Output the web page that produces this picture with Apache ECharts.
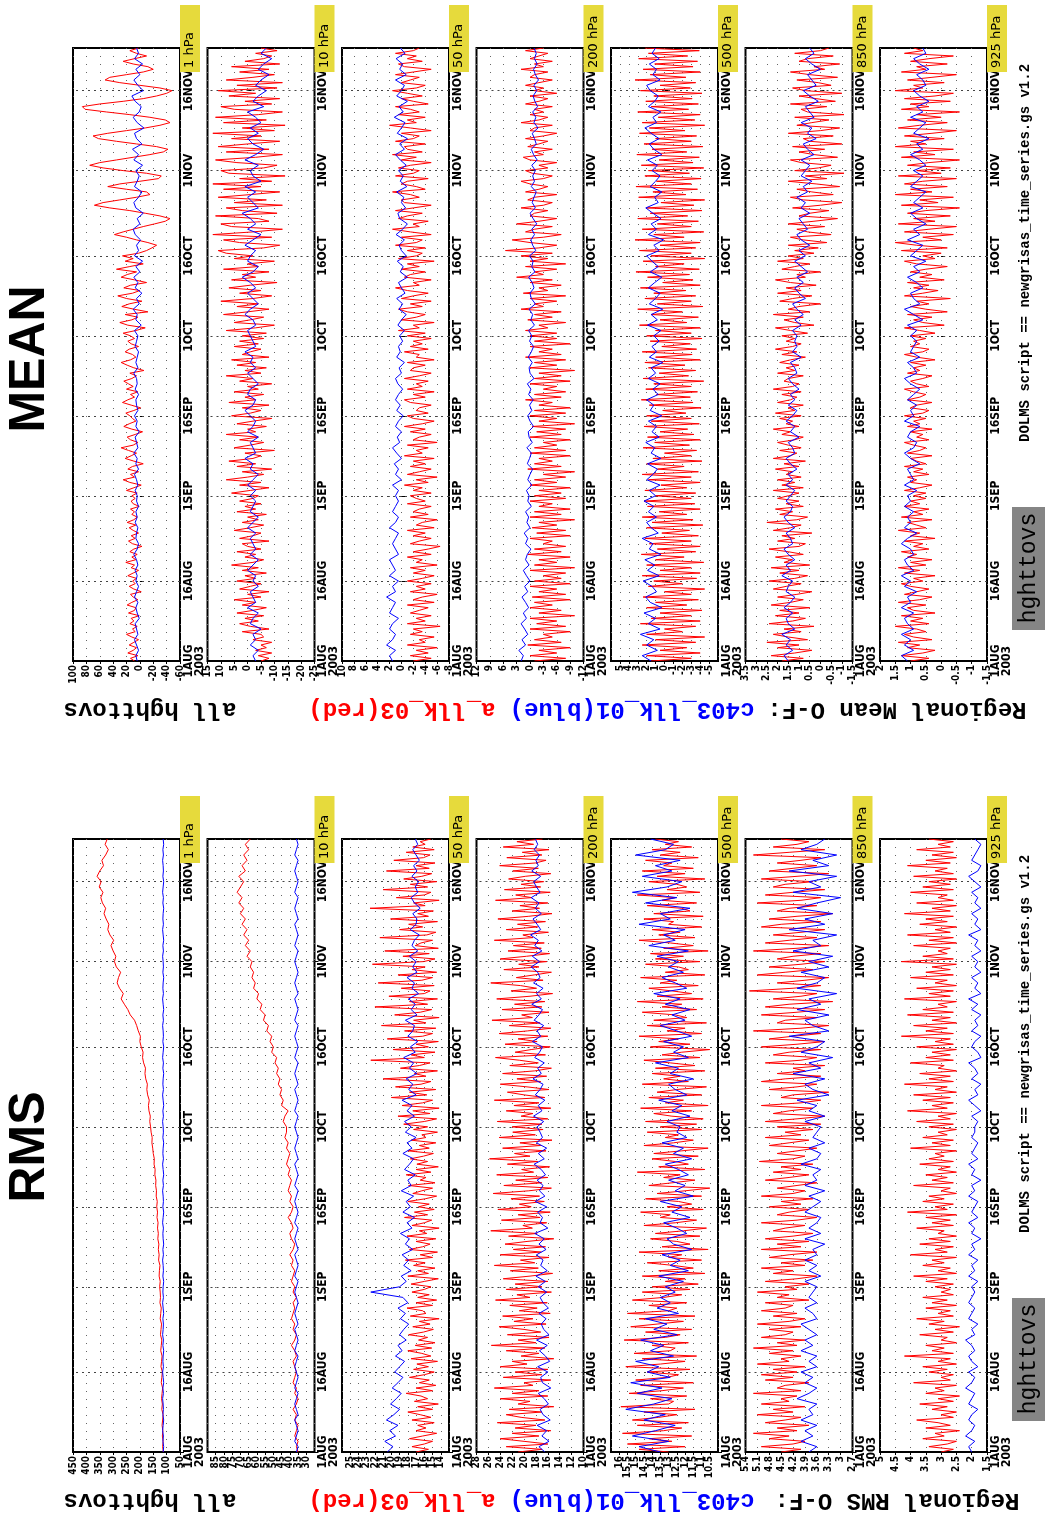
<!DOCTYPE html>
<html><head><meta charset="utf-8">
<script src="https://cdn.jsdelivr.net/npm/echarts@6/dist/echarts.min.js"></script>
<style>html,body{margin:0;padding:0;background:#fff}#c{width:1045px;height:1526px}</style>
</head><body><div id="c"></div>
<script>
// ---------- labels / axes ----------
const levels = ['1 hPa','10 hPa','50 hPa','200 hPa','500 hPa','850 hPa','925 hPa'];
const timeTickDays = [0,15,31,46,61,76,92,107];
const timeTickLabels = ['1AUG\n2003','16AUG','1SEP','16SEP','1OCT','16OCT','1NOV','16NOV'];
const meanMax = [100,15,10,12,6,3.5,2];
const meanMin = [-60,-25,-8,-12,-6,-1.5,-1.5];
const meanStep = [20,5,2,3,1,0.5,0.5];
const rmsMax = [450,90,26,28,16.5,5.4,5];
const rmsMin = [50,25,13,10,10,2.7,1.5];
const rmsStep = [50,5,1,2,0.5,0.3,0.5];
const panelTitles = ['MEAN','RMS'];

// ---------- MEAN data (red: a_llk_03, 12-hourly; blue: c403_llk_01, daily) ----------
const meanRed1 = [8,14,3,18,10,5,16,9,2,12,20,7,11,4,15,9,13,1,17,8,6,19,12,3,10,14,-2,9,16,7,11,5,18,10,2,13,8,21,6,12,4,15,9,-3,11,17,7,13,2,10,16,6,19,9,4,12,8,14,1,10,13,7,
12,4,20,9,-2,15,25,8,14,2,18,11,-5,9,22,13,5,17,28,10,3,14,19,7,-4,12,24,16,6,11,15,21,9,-1,13,26,18,8,14,3,20,10,17,24,12,5,15,-6,9,19,28,14,6,11,22,16,2,13,18,8,
14,25,6,-8,18,30,12,3,22,-12,9,27,16,-3,20,33,11,0,24,14,-10,8,28,19,5,35,15,-5,22,10,26,2,
-10,-18,-25,-12,5,20,38,25,10,-5,-22,-38,-45,-30,-8,15,45,68,55,30,5,-15,-10,20,48,30,0,-28,-32,-10,25,55,75,60,35,10,-15,-35,-42,-25,5,35,62,70,48,20,-8,-30,-45,-38,-15,15,50,82,86,60,25,-5,-25,-40,-48,-30,0,30,52,45,20,-5,-20,-12,10,25,8,-10,5,15,2];
const meanBlue1 = [4,6,2,5,8,3,5,7,1,4,6,3,8,5,2,6,4,7,3,5,9,4,2,6,5,3,7,4,6,2,5,
4,7,3,5,8,2,6,4,9,3,5,7,1,6,4,8,3,5,6,2,7,4,5,9,3,6,4,2,7,5,
3,8,-2,6,4,10,1,5,-3,7,3,9,0,6,-4,8,2,5,-1,7,10,0,4,-5,6,9,2,-3,8,4,1,
6,-4,9,2,11,-3,5,8,-6,4,10,1,-2,7,12,-5,3,9,0,6,-4,8,2,5];

const meanRed10 = [-5,-8,-4,-9,-3,-7,-5,-9,-2,-6,-5,2,-8,-1,3,-4,1,-6,4,-2,-7,2,-3,5,-5,0,-8,3,-1,-5,4,-3,1,-7,2,-4,6,-2,-6,1,-3,4,-5,0,2,-8,3,-2,-5,5,-1,-6,2,-4,0,-7,4,-3,1,-5,3,-2,
-4,6,-1,-8,3,-5,8,0,-6,2,-9,4,-3,7,-2,-5,1,-10,5,-1,-6,3,-4,8,-3,0,-7,4,-2,-9,6,-1,-5,2,-8,7,-3,1,-6,5,-4,0,-9,3,-2,8,-5,1,-7,4,-3,6,-8,2,-1,-5,5,-4,3,-6,
2,-7,8,-3,-10,5,-1,-6,9,0,-8,4,-4,10,-2,-9,3,-5,7,-1,-11,6,-3,2,-8,9,-4,0,-10,5,-2,8,
11,-6,-12,3,9,-9,13,-2,-13,6,10,-8,-4,12,-11,2,8,-13,5,-7,11,-1,-12,9,-5,13,-9,3,-14,7,10,-6,-11,4,12,-3,-13,8,-8,11,0,-12,6,-5,13,-10,2,-14,9,-7,12,-4,-13,5,10,-9,1,-12,7,-3,11,-11,4,-13,8,-2,-10,3,-8,6,-12,1,-6,-9,-3,-11,-5];
const meanBlue10 = [-3,-2,-4,-1,-3,-2,-5,-1,-2,-4,0,-3,-2,-1,-4,-2,-3,0,-2,-4,-1,-3,-2,-1,-3,0,-2,-4,-1,-2,-3,
-1,-3,0,-2,-4,-1,-2,1,-3,-2,-1,-4,0,-2,-3,-1,1,-2,-3,0,-1,-4,-2,0,-3,-1,-2,1,-3,-2,
-1,0,-3,-2,1,-1,-4,-2,0,-3,-1,2,-2,-4,0,-1,-3,1,-2,-5,0,-3,-1,2,-4,-2,0,-3,1,-5,-2,
-1,-4,1,-3,-6,-2,0,-4,-1,-5,-3,0,-6,-2,-4,-7,-3,-5,-8,-4,-6,-9,-5,-7];

const meanRed50 = [-2,-5,-1.5,-4.5,-2.5,-6,-1,-4,-3,-5.5,-1.5,-3.5,-2,-6.5,-1,-4,-2.5,-5,-1.5,-3,-4.5,-1,-5.5,-2,-3.5,-6,-1.5,-4,-2.5,-5,-1,-3.5,-5.5,-2,-4,-1.5,-6,-2.5,-3.5,-1,-5,-2,-4.5,-6.5,-1.5,-3,-5,-2,-4,-1,-5.5,-2.5,-3.5,-6,-1.5,-4.5,-2,-3,-5,-1,-4,-2.5,
-1.5,-5,-2,-3.5,-0.5,-4.5,-2.5,-6,-1,-3,-5,-1.5,-4,-2,-5.5,-0.5,-3.5,-2.5,-4.5,-1,-6,-2,-3,-5,-1.5,-4,-0.5,-3.5,-5.5,-2,-1,-4.5,-2.5,-3,-5,-1.5,-0.5,-4,-2,-5.5,-1,-3.5,-2.5,-4.5,-0.5,-3,-5,-1.5,-2,-4,-1,-5.5,-2.5,-3,-0.5,-4.5,-1.5,-3.5,-2,-5,
-1,-4,0.5,-3,-2,-5.5,0,-2.5,-4,-1,0.5,-3.5,-1.5,-5,0,-2,-4.5,-1,1,-3,-2,-5,-0.5,-1.5,-4,0,-3,-1,-5.5,0.5,-2.5,-3.5,
-1,-4,1,-2.5,-3.5,0,-5,-1.5,1.5,-3,-2,-4.5,0.5,-1,-3.5,1,-2,-5,-0.5,0,-3,-1.5,1.5,-4,-2.5,0,-1,-4.5,1,-2,-3,0.5,-1.5,-5,0,-2.5,1.5,-3.5,-1,-0.5,-4,1,-2,-3,0,-5,-1.5,2,-2.5,-1,-4,0.5,-3,-1.5,1,-4.5,-2,0,-3.5,-1,1.5,-2.5,-4,0,-1.5,-3,1,-2,-5,-0.5,0.5,-3.5,-1,-2.5,1,-2,-3];
const meanBlue50 = [1.5,2,1,2.5,1.5,1,2,1.5,0.5,2,1.5,1,2.5,1,1.5,0.5,2,1,1.5,2,0.5,1,1.5,1,0.5,2,1,0.5,1.5,1,0.5,
1,0.5,1.5,0,1,0.5,1.2,0,0.8,1.5,0.3,0.7,0,1,0.5,-0.3,0.8,0.2,1,0.5,-0.2,0.6,1,0,0.4,-0.5,0.8,0.2,0.5,-0.2,
0.3,-0.5,0.6,0,-0.8,0.4,-0.2,0.8,-0.6,0,0.5,-1,0.2,-0.3,0.7,-0.8,0,0.4,-0.5,0.9,-0.2,-1,0.3,0.6,-0.7,0,-0.4,0.8,-0.9,0.2,-0.3,
0.5,-0.8,0.2,1,-0.5,0.3,-1,0.7,0,-0.6,1.2,-0.3,0.4,-1,0.8,0,-0.5,1,-0.8,0.3,-0.2,0.9,-0.6,0.2];

const meanRed200 = [-1,-8,0,-6,-2,-9,0.5,-7,-1,-5,-3,-9,0,-8,-1.5,-6,0,-10,-2,-7,0,-5,-1,-9,-0.5,-8,-2,-6,0,-9,-1,-7,-3,-8,0,-10,-1,-6,-2,-9,0.5,-7,-1,-8,-3,-5,0,-9,-1.5,-8,-0.5,-6,-2,-10,0,-7,-1,-9,-2,-5,0,-8,
-1,-7,-2,-9,0,-6,-1,-8,-3,-10,0.5,-7,-1,-5,-2,-9,0,-8,-1,-6,-3,-9,0,-7,-1.5,-8,-0.5,-10,-2,-6,0,-8,-1,-9,-2,-5,1,-7,-1,-8,-3,-6,0,-9,-1,-7,-2,-10,0,-6,-1,-8,1,-7,-2,-5,0,-9,-1,-6,
0,-6,1,-4,-2,-8,0.5,-5,-1,-7,2,-3,-1,-6,0,-8,1.5,-4,-2,-7,0,-5,3,-3,-1,-6,1,-8,0,-4,2,-5,
5.5,-2,-6,0,4,-3,-7,1,-1,-5,3,-2,-6,0,-1,-4,2,-3,-5,0.5,-1,-6,1,-2,-4,0,2,-3,-5,-0.5,1,-4,-2,-6,0,1.5,-3,-1,-5,0.5,-2,-4,1,-3,-6,0,-1,-5,2,-2,-4,0,-3,-1,-5,1,-2,-4,0,-6,-1,-3,1,-2,-5,0,-1,-4,2,-3,-1,-5,0,-2,-4,1,-3];
const meanBlue200 = [2,1.5,2.5,1,1.8,0.5,1.2,2,0.8,1.5,0.3,1,1.8,0.5,1.2,0,0.8,1.5,0.2,1,0.6,-0.2,1,0.5,1.3,0,0.7,0.3,1,-0.3,0.5,
0.2,0.8,-0.4,0.5,0,-0.6,0.6,0.1,-0.3,0.7,-0.5,0.2,0.4,-0.8,0,0.5,-0.4,0.1,-0.7,0.3,-0.2,0.6,-0.9,0,0.2,-0.5,0.4,-0.3,-0.8,0.1,
-0.4,0.3,-1,-0.2,-0.6,0.2,-1.2,-0.3,0,-0.9,-0.5,0.3,-1.1,-0.4,-0.7,0.1,-1.3,-0.6,-0.2,-1,-0.4,-1.5,-0.7,0,-1.2,-0.5,-0.9,-1.4,-0.3,-1,-0.6,
-1.2,-0.4,-1.6,-0.8,-0.3,-1.4,-1,-0.5,-1.8,-0.9,-1.3,-0.6,-1.7,-1.1,-0.7,-1.5,-0.9,-1.9,-1.2,-0.8,-1.6,-1,-1.4,-0.9];

const meanRed500 = [1.5,-3,2,-4,0.5,-2.5,2.5,-3.5,1,-4.5,2,-2,0,-3.5,2.7,-4,1.5,-3,0.5,-4.2,2,-2.5,1,-3.8,2.4,-3,0,-4.5,1.8,-2,1.2,-3.6,2.5,-4,0.5,-3,2,-4.4,1,-2.2,2.6,-3.5,0.8,-4,1.7,-3,2.2,-3.8,0.3,-2.8,2,-4.3,1.4,-3.2,2.5,-2.5,0.6,-4,1.9,-3.4,2.3,-3,
1,-3.5,2.2,-2.5,0.4,-4,1.8,-3,2.5,-3.8,0.8,-2.2,2,-4.2,1.3,-3,0,-3.6,2.4,-2.8,1.1,-4,1.9,-3.3,0.5,-2.6,2.3,-3.9,1.5,-3,2,-2.4,0.2,-4.1,1.7,-3.2,2.6,-2.9,0.9,-3.7,2.1,-3,1.2,-4.4,2.4,-2.7,0.6,-3.5,1.8,-2.3,2.2,-4,1,-3.1,2.5,-3.6,0.3,-2.9,1.6,-4.2,
2,-3,1,-4,2.8,-2.5,0.5,-3.8,1.5,-2,3,-4.3,0.8,-3,2.2,-3.5,1.2,-2.4,2.7,-4,0.2,-3.2,1.9,-2.8,3.2,-3.9,1,-2.2,2.4,-4.5,1.5,-3,
2.8,-3.5,0.5,-4,3.3,-2.2,1.2,-4.4,2.5,-3,0.8,-3.8,3,-2.6,1.6,-4.2,2,-3.3,0.4,-4.5,2.9,-2.4,1.3,-3.7,3.2,-3,0.9,-4.1,2.2,-2.8,1.8,-4.4,2.6,-3.2,0.6,-3.9,3.1,-2.5,1.4,-4.3,2.3,-3,1,-3.6,2.8,-2.3,1.7,-4.5,2.5,-3.4,0.7,-4,3,-2.7,1.5,-3.8,2.1,-3.1,1.2,-4.2,2.7,-2.9,0.5,-3.5,3.3,-2.4,1.6,-4,2.4,-3.2,1.1,-3.7,2.9,-2.6,1.8,-3.9,2.2];
const meanBlue500 = [1.5,2.5,0.8,2,1.2,2.7,0.5,1.8,1,2.3,0.3,1.6,2.1,0.9,1.4,2.4,0.6,1.9,1.1,2.2,0.4,1.7,1.3,2.5,0.7,1.5,2,0.9,1.8,1.2,2.3,
1,1.7,0.5,2,1.3,0.8,1.9,0.4,1.5,1.1,2.1,0.6,1.4,0.9,1.8,0.3,1.6,1.2,2,0.7,1.3,0.5,1.8,1,1.5,0.2,1.7,0.9,1.4,0.6,
1.2,0.4,1.9,0.8,1.5,0.2,1.7,1,0.5,1.8,1.1,0.3,1.6,0.7,1.4,2,0.6,1.2,0.1,1.8,0.9,1.5,0.4,1.3,2.1,0.7,1.1,0.3,1.6,1,0.5,
1.4,0.8,1.9,0.3,1.2,1.7,0.6,1.5,2.2,0.9,1.3,0.4,1.8,1.1,0.7,1.6,2,0.5,1.3,0.9,1.7,0.6,1.4,1];

const meanRed850 = [1.8,0.8,2.3,1.2,0.4,2,1,2.5,0.6,1.5,2.2,0.9,1.7,0.3,2.4,1.3,0.7,2.1,1,1.9,0.5,2.3,1.4,0.8,2,1.1,0.4,2.2,1.6,0.9,2.4,1.2,0.6,1.9,1,2.3,0.5,1.7,1.3,2.1,0.8,1.5,2.4,1,0.7,2,1.2,1.8,0.4,2.2,1.4,0.9,2.5,1.1,0.6,1.9,1.3,2.1,0.8,1.6,1,2,
1.5,1,2.2,0.8,1.8,1.2,2,0.9,1.6,1.3,2.1,1,1.7,0.7,2.2,1.4,1.1,1.9,0.9,1.5,2,1.2,0.8,1.8,1.4,2.2,1,1.6,1.3,1.9,0.9,2.1,1.2,1.5,0.8,2,1.4,1.1,1.8,0.9,2.2,1.3,1,1.7,1.5,0.8,2,1.2,1.6,1,1.9,1.4,0.7,1.8,1.1,2.1,1.3,0.9,1.6,1.2,
1.8,0.6,1.4,2.1,0.3,1.2,1.7,0.8,2.2,0.5,1.5,1,0,1.9,1.3,0.4,2,0.9,1.6,0.2,1.4,2.1,0.7,1.1,0,1.8,1.2,0.5,2,0.8,1.5,0.3,
1.2,0.1,1.5,-0.3,0.8,1.4,-0.5,0.6,1.1,-0.2,1.5,0.3,-0.8,1,0.5,-0.4,1.3,0,-1,0.8,1.4,-0.6,0.4,1.1,-0.9,0.2,1.5,-0.3,0.7,-1.1,1.2,0.1,-0.5,0.9,1.4,-0.8,0.3,1,-0.2,1.3,-1,0.5,0.8,-0.6,1.5,0,-0.9,1.1,0.4,-0.4,1.2,-1.1,0.6,0.9,-0.3,1.4,-0.7,0.2,1,-1,0.7,1.3,-0.5,0.1,1.1,-0.8,0.5,1.4,-0.2,0.3,-0.9,1,0.6,-0.6,1.2,0,-0.4];
const meanBlue850 = [1.5,1.7,1.3,1.6,1.4,1.8,1.2,1.5,1.6,1.3,1.7,1.4,1.2,1.6,1.5,1.3,1.8,1.4,1.6,1.2,1.5,1.7,1.3,1.4,1.6,1.2,1.5,1.7,1.4,1.3,1.6,
1.4,1.2,1.6,1.3,1.5,1.1,1.4,1.6,1.2,1.3,1.5,1,1.4,1.2,1.6,1.3,1.1,1.5,1.2,1.4,1,1.3,1.5,1.1,1.2,1.4,0.9,1.3,1.1,1.2,
1.1,1.3,0.9,1.2,0.8,1.1,1.3,0.7,1,1.2,0.8,1.1,0.6,0.9,1.2,0.7,1,0.5,0.9,1.1,0.6,0.8,1,0.5,0.9,0.7,1.1,0.6,0.8,0.4,0.9,
0.7,0.5,0.9,0.3,0.6,0.8,0.2,0.6,0.4,0.9,0.3,0.5,0.7,0.1,0.5,0.8,0.2,0.4,0.6,0,0.4,0.7,0.3,0.5];

const meanRed925 = [1,0.4,1.3,0.6,0.2,1.1,0.7,1.4,0.3,0.9,1.2,0.5,0.8,1.5,0.4,1,0.6,1.3,0.2,0.9,1.1,0.5,1.4,0.7,0.3,1.2,0.8,0.4,1,1.3,0.6,0.9,0.2,1.2,0.7,1.4,0.5,1,0.3,1.1,0.8,1.3,0.4,0.9,0.6,1.2,0.2,1,0.7,1.4,0.5,0.8,1.1,0.3,1.3,0.6,0.9,0.4,1.2,0.7,1,0.5,
0.9,0.5,1.2,0.7,0.3,1,0.8,1.1,0.4,0.9,0.6,1.2,0.5,0.8,1,0.3,1.1,0.7,0.5,0.9,1.2,0.4,0.8,0.6,1,0.3,1.1,0.7,0.9,0.5,1.2,0.6,0.4,1,0.8,0.3,1.1,0.7,0.5,0.9,1.2,0.4,0.8,1,0.6,0.3,1.1,0.7,0.9,0.5,1,0.2,0.8,1.2,0.6,0.4,1,0.7,0.9,0.5,
1,0.2,0.7,1.2,-0.1,0.6,0.9,0.3,1.1,-0.2,0.5,1,0.4,0.8,-0.3,1.2,0.6,0.1,0.9,0.4,1.1,-0.1,0.7,0.3,1,0.5,-0.2,0.8,1.2,0.2,0.6,0,
1.3,-0.2,0.8,1.5,0,0.6,-0.4,1.2,0.4,-0.5,1.4,0.2,0.9,-0.3,1.1,0.5,-0.6,1.3,0.1,0.7,-0.4,1.5,0.3,1,-0.2,1.2,0.6,-0.5,1.4,0,0.8,-0.3,1.1,0.4,-0.6,1.3,0.2,0.9,-0.4,1.5,0.5,1,-0.1,1.2,0.3,-0.5,1.4,0.7,-0.2,1.1,0,0.8,-0.6,1.3,0.4,1,-0.3,1.2,0.2,-0.4,1.5,0.6,0.9,-0.1,1.1,0.3,-0.5,1.3,0.5,0.8,-0.2,1,0.4,-0.4,1.2,0.6,0.9];
const meanBlue925 = [1.1,1.3,0.9,1.2,1,1.3,0.9,1.1,1.2,0.9,1.3,1,1.1,0.8,1.2,1,1.3,0.9,1.1,1.2,0.9,1,1.3,1.1,0.8,1.2,1,1.1,0.9,1.2,1,
1.1,0.8,1.2,0.9,1,1.1,0.7,1,1.2,0.9,0.8,1.1,1,0.7,1.2,0.9,1,0.8,1.1,0.9,0.7,1,1.2,0.8,0.9,1.1,0.7,1,0.9,0.8,
1,0.8,1.1,0.6,0.9,1.2,0.7,0.9,1,0.6,0.8,1.1,0.7,0.9,0.5,1,0.8,0.6,1.1,0.7,0.9,0.5,0.8,1,0.6,0.9,0.7,0.5,1,0.8,0.6,
0.9,0.5,0.7,1,0.6,0.8,0.4,0.9,0.7,0.5,1,0.6,0.8,0.4,0.7,0.9,0.5,0.6,0.8,0.4,0.7,0.9,0.5,0.6];

// ---------- RMS data ----------
const rmsRed1 = [112,115,113,116,114,117,115,113,118,116,119,117,115,120,118,116,121,119,117,122,120,118,123,121,119,124,122,120,125,123,124,
126,124,128,127,125,130,128,131,129,133,131,134,132,136,134,137,135,139,138,141,140,144,143,147,146,150,152,155,154,158,
160,163,161,166,168,165,171,174,172,178,181,179,186,190,188,195,200,198,206,212,220,236,245,258,270,262,276,285,280,272,288,
295,290,300,308,298,312,320,316,326,334,328,340,346,338,352,345,360,350,336,342,328,318,330,322];
const rmsBlue1 = [113,111,114,112,115,113,111,114,112,113,115,112,114,111,113,115,112,114,113,111,114,112,115,113,112,114,111,113,115,112,114,
113,111,114,112,113,115,112,114,111,113,114,112,115,113,111,114,112,113,115,112,114,111,113,115,112,114,113,111,114,112,
113,115,112,114,111,113,115,112,114,113,111,114,112,115,113,111,114,112,113,115,112,114,111,113,115,112,114,113,111,114,112,
113,115,112,114,111,113,115,112,114,113,111,114,112,115,113,111,114,112,113,115,112,114,111,113];

const rmsRed10 = [35,36,35,37,36,35,37,36,38,36,35,37,36,38,37,36,37,38,36,37,39,37,36,38,37,39,38,37,38,36,38,
37,39,38,37,39,38,40,38,37,39,40,38,39,41,39,38,40,39,41,40,39,41,40,42,41,40,42,41,43,42,
42,44,43,41,45,44,46,45,47,46,48,47,49,48,51,50,52,51,54,53,56,55,58,57,60,59,62,61,63,62,64,
63,66,64,67,65,68,66,69,67,70,68,71,69,72,70,68,71,67,69,66,68,65,67,64];
const rmsBlue10 = [36,35,37,36,35,36,37,35,36,37,36,35,37,36,35,36,37,36,35,37,36,35,36,37,35,36,37,36,35,36,37,
36,35,37,36,35,36,37,35,36,37,36,35,37,36,35,36,37,36,35,37,36,35,36,37,35,36,37,36,35,36,
37,36,35,37,36,35,36,37,35,36,37,36,35,37,36,35,36,37,36,35,37,36,35,36,37,35,36,37,36,35,36,
37,36,35,37,36,35,36,37,35,36,37,36,35,37,36,35,36,37,36,35,37,36,35,36];

const rmsRed50 = [17,15.5,17.5,16,15,17.8,16.2,14.5,17,15.8,16.8,14.8,17.5,15.2,16.5,18,15,16.8,14.3,17.2,15.6,16.4,18.2,15,17,14.6,16.6,15.4,17.8,16,14.8,17.3,15.5,16.9,14.4,17.6,15.2,16.3,18,15.1,17.1,14.7,16.7,15.6,17.9,16.1,14.9,17.4,15.3,16.6,14.2,17.7,15.8,16.2,18.1,15,17,14.5,16.8,15.4,17.5,16,
15.2,17.6,16,14.3,18,15.5,16.8,14.7,17.3,15.9,18.3,15,16.5,14.4,17.8,16.2,15.3,17,14.6,18.1,15.7,16.6,14.2,17.5,16,15.1,18.4,15.6,17.2,14.8,16.7,15.4,18,15.9,14.5,17.4,16.3,15,17.9,14.7,16.5,15.8,18.2,15.2,17,14.3,16.9,15.6,17.7,16.1,14.9,18,15.4,16.6,14.6,17.6,15.8,16.3,14.4,17.3,
15.6,18.5,16,14.5,19.2,15.3,17.4,14.2,18.7,16.2,15,20,15.7,17.8,14.6,19.5,16.4,15.2,21,15.8,17.2,14.4,18.9,16.6,15.3,22.5,16,17.6,14.7,19.8,15.5,17,
14.3,20.5,16.2,15,18.4,14.6,21.2,15.8,17.3,14.2,19.6,16.5,15.1,22,15.6,17.8,14.4,20.3,16,15.3,18.8,14.8,21.6,16.3,15,19.2,14.5,17.5,15.9,22.3,16.1,14.7,18.6,15.4,20.8,14.3,17.1,16.4,15,21.4,15.7,14.6,19,16.2,17.9,14.4,20.1,15.5,16.8,14.9,22.6,15.9,17.3,14.2,19.4,16,15.2,21,15.6,17.7,14.5,18.5,16.3,15.1,20.6,15.4,17,14.7,19.7,16.1,15.3,18.2,14.8,17.4,15.9,16.5,15.2];
const rmsBlue50 = [20.5,19.8,20.8,19.5,20.2,19.2,20.6,19.7,19,20.1,19.4,18.8,19.9,19.2,18.6,19.6,19,18.4,19.5,18.7,19.2,18.2,19,18.5,17.9,18.9,18.3,19.2,18,18.6,22.5,
19,18.2,18.8,17.6,18.5,17.9,18.7,17.4,18.3,17.8,18.9,17.5,18.1,17.2,18.6,17.7,18.2,17.3,18.8,17.6,18,17.1,18.4,17.8,17.3,18.6,17.5,18.1,17,18.3,
17.6,18.4,17.2,18.1,17.5,18.7,17,17.9,17.4,18.2,16.9,17.8,17.3,18.5,17.1,17.7,16.8,18,17.4,17.2,18.3,16.9,17.6,17.1,17.9,16.7,17.5,17.2,18.1,16.9,17.4,
17,17.8,16.8,17.5,17.2,16.6,17.7,17,16.9,17.4,16.5,17.2,17.6,16.8,17.1,16.7,17.5,16.9,17.3,16.6,17,17.4,16.8,17.1];

const rmsRed200 = [21,17,23,16,20,24,17.5,22,15.5,21.5,18,24.5,16.5,20.5,23,17,22.5,15,21,19,24,16,22,17.5,25,18.5,20,15.5,23.5,17,21.5,16,24,19.5,22,15,20.5,17.5,23,16.5,25.5,18,21,15.8,22.8,17.2,20,24.2,16.3,21.7,18.5,23.6,15.6,20.8,17.8,22.4,16.1,24.8,19,21.2,15.4,23,
17,21.5,16,23.5,19,15.2,22.3,17.6,25,18.2,20.6,15.8,24,17.1,21.8,16.4,23.2,19.5,15,22.6,17.8,25.6,18.6,20.2,16.2,23.8,17.3,21,15.6,24.4,18.8,20.8,16.6,22.2,17.4,25.2,19.2,15.4,23.4,17,21.4,16,24.6,18.4,20.4,15.7,22.8,17.7,25.8,19,21.6,16.3,23.6,17.2,20.7,15.3,24.2,18.1,21.9,16.8,
22,17,24.5,16,20.5,18.5,23,15.5,21.7,17.5,25,16.5,20,22.8,15.8,19.5,24,17.2,21.2,16.2,23.6,18.2,15.4,22.4,17.6,20.8,24.8,16.4,21.5,18.8,15.6,23.2,
17.8,21,16,24.2,19.4,15.5,22.5,17.3,25.4,18.6,20.4,15.8,23.7,17,21.6,16.5,24.6,19,15.2,22.2,17.9,20.6,25.6,16.8,21.3,18.3,15.4,23.4,17.5,20.9,16.2,24,19.6,15.7,22.7,17.1,21.8,16.6,25,18.5,20.2,15.9,23,17.7,21.1,16.4,24.4,19.2,15.3,22,17.4,20.7,16,24.8,18.7,21.4,15.6,23.3,17.2,20.5,16.7,22.6,19.8,15.5,21.9,17.6,24.1,18.1,16.3,22.9,17,20.3,15.8,23.5,18.4,21.2,16.9];
const rmsBlue200 = [16.5,17.5,15.8,17,16.2,17.8,15.6,16.8,17.3,15.9,16.6,17.6,15.5,16.9,17.2,16,17.7,15.7,16.4,17.4,16.1,17.9,15.8,16.7,17.1,16.3,17.5,15.9,16.8,17.3,16.2,
17.6,16.4,18,16.1,17.2,16.8,17.9,16.3,17.5,16.6,18.2,16,17.3,16.9,17.7,16.2,18.1,16.5,17.4,16.8,17.8,16.4,17.1,18.3,16.6,17.6,16.2,17.9,16.9,17.3,
17.8,16.7,18.4,17,17.6,16.5,18.1,17.3,16.8,18.5,17.1,17.7,16.6,18.2,17.4,16.9,18.6,17.2,17.8,16.7,18.3,17.5,16.9,18.7,17.1,17.9,16.8,18.4,17.3,17.7,18.8,
17.4,18.6,17,18.2,17.6,18.9,17.2,17.8,18.5,17.1,18.1,17.5,18.8,17.3,17.9,18.4,17.2,18.7,17.6,18,17.4,18.3,17.7,18.1];

const rmsRed500 = [13,14.8,12,15.5,12.8,14.2,11.6,15.8,13.3,12.2,14.9,11.8,15.2,13.6,12.5,14.5,11.4,15.9,13,12.7,14.1,11.9,15.4,13.4,12.1,14.7,11.5,15,13.1,12.4,14.3,11.7,15.6,13.5,12,14.6,11.3,15.1,12.9,12.6,14,11.8,15.7,13.2,12.3,14.4,11.6,15.3,13.7,12.1,14.8,11.4,15.5,13,12.5,14.2,11.9,15.2,13.3,12.2,14.6,11.7,
14,11.2,13.2,12,14.6,10.8,13.6,11.5,12.7,14.3,11,13,12.2,14.8,10.6,13.4,11.7,12.5,14.1,11.1,13.8,12.1,10.7,14.5,12.6,11.3,13.5,12.9,14.7,10.9,13.1,11.6,12.4,14.4,11,13.7,12,10.5,14.2,12.8,11.4,13.3,12.3,14.9,10.8,13.6,11.8,12.6,14,11.2,13.9,12.2,10.6,14.5,12.7,11.5,13.2,12.4,14.3,11,
13.5,11.3,14.4,10.9,12.8,13.9,11.6,14.7,10.6,13.2,12.1,14.2,11,13.7,12.5,10.7,14.6,11.8,13.3,12.3,14,10.8,13.8,11.4,12.9,14.5,11.1,13.4,12.2,10.5,14.1,11.7,
13.6,12.4,14.8,11,13.1,12,14.3,10.7,13.9,11.9,12.6,14.6,11.3,13.4,12.2,14.9,10.9,13.7,11.6,12.8,14.2,11.2,13.5,12.5,14.7,10.8,13.2,11.8,12.4,14.4,11.1,13.8,12.1,14.1,10.6,13.3,11.5,12.9,14.8,11.4,13.6,12.3,14,11,13,12.7,14.5,10.9,13.9,11.7,12.2,14.3,11.3,13.4,12.6,14.9,11.1,13.1,11.9,12.5,14.2,10.8,13.7,12,14.6,11.5,13.3,12.8,14.4,11.2,13.5,12.3,14,11.6,13.2,12.4,13.8];
const rmsBlue500 = [13.5,14.8,13,15.2,13.8,12.6,14.5,13.2,15.6,13.9,12.8,14.9,13.4,15.3,12.9,14.3,13.6,15,12.7,14.1,13.3,14.7,12.5,13.9,13.1,14.4,12.4,13.7,12.9,13.5,12.6,
13.2,12.1,13.6,11.8,12.9,12.3,13.4,11.6,12.7,13.1,11.9,12.5,13.3,11.7,12.8,12.2,13.5,11.5,12.6,12,13,11.8,12.4,13.2,11.6,12.7,12.1,13.4,11.9,12.5,
12.3,13.1,11.7,12.8,12.2,13.6,11.9,12.6,13,11.5,12.9,12.4,13.8,11.8,12.7,12.1,13.3,11.6,12.5,13.5,12,12.8,11.7,13.2,12.3,13.9,11.9,12.6,13.4,12.1,13,
12.4,13.7,11.8,14.2,12.6,13.3,12,14.8,12.9,13.5,11.7,14.4,12.5,15.2,13.1,12.2,14.6,12.8,13.8,12.3,15,13.2,12.7,14.1];

const rmsRed850 = [4.5,4,5,4.2,3.9,4.8,4.3,5.2,4.1,4.6,3.8,4.9,4.4,4,5.1,4.2,4.7,3.9,5,4.3,4.5,4.1,5.2,4,4.6,4.4,3.8,4.9,4.2,5,4.1,4.7,3.9,5.1,4.3,4.5,4,4.8,4.2,5.2,4.1,4.6,3.9,5,4.4,4.2,4.8,4,5.1,4.3,3.9,4.7,4.1,5,4.4,4.2,4.9,3.8,4.6,4.3,5.1,4.1,
4.4,3.8,4.9,4.1,3.6,4.7,4.2,5,3.9,4.5,3.7,4.8,4.3,3.6,5,4,4.6,3.8,4.9,4.2,3.7,4.7,4.4,3.9,5,4.1,3.6,4.6,4.3,3.8,4.8,4,4.5,3.7,5,4.2,3.9,4.6,4.1,3.6,4.9,4.3,3.8,4.7,4,4.5,3.7,5.05,4.2,3.9,4.6,4.1,3.6,4.8,4.3,3.8,4.9,4,4.4,3.7,
4.6,3.5,4.9,4.1,3.4,4.7,4.3,3.7,5,4,3.5,4.5,4.2,3.3,4.8,4.1,3.6,5,4.4,3.5,4.6,3.9,4.2,3.4,4.9,4,3.6,4.7,4.3,3.5,5,4.1,
3.4,4.8,4.2,3.5,5.2,4,3.3,4.6,4.4,3.6,5,4.1,3.4,4.9,4.3,3.2,4.7,4,3.6,5.3,4.2,3.5,4.6,3.9,3.3,5.1,4.4,3.7,4.8,4,3.4,4.6,4.2,3.5,5.2,4.1,3.3,4.9,4.3,3.6,4.7,4,3.4,5,4.5,3.5,4.8,4.1,3.2,4.6,4.3,3.6,5.1,4,3.5,4.9,4.2,3.4,4.7,4.4,3.7,5,4.1,3.3,4.8,4.2,3.6,4.6,4,3.5,5.2,4.3,3.4,4.7,4.1,3.8,4.5];
const rmsBlue850 = [3.8,3.6,4,3.7,3.9,3.6,4,3.7,3.8,3.6,4.1,3.8,3.6,3.9,3.7,4,3.6,3.8,3.6,4,3.7,3.9,3.6,3.8,4,3.6,3.7,3.9,3.6,3.8,3.7,
3.6,3.9,3.5,3.8,3.6,3.9,3.6,3.7,3.4,3.9,3.5,3.8,3.6,3.5,3.9,3.7,3.5,3.8,3.4,3.9,3.6,3.7,3.5,4,3.6,3.5,3.8,3.4,3.7,3.6,
3.5,3.9,3.4,3.8,3.6,4.1,3.3,3.7,3.9,3.4,4.2,3.5,3.8,3.2,4,3.6,3.4,4.3,3.3,3.7,3.9,3.3,4.1,3.5,3.8,3.1,4.1,3.6,3.4,4,3.3,
3.8,3.2,4.2,3.5,3.7,3.1,4.3,3.4,3.9,3.2,4.1,3.6,3,4.2,3.5,3.8,3.1,4.3,3.3,3.7,3.1,4,3.6,3.4];

const rmsRed925 = [3,2.6,3.4,2.8,2.5,3.6,2.9,3.2,2.4,3.5,2.7,3.1,3.8,2.6,3,2.5,3.3,2.8,3.7,2.6,3.1,2.4,3.5,2.9,3.2,2.5,3.9,2.7,3,2.6,3.4,2.8,3.6,2.5,3.1,2.7,4.2,2.6,3.3,2.9,3.5,2.5,3,2.8,3.7,2.6,3.2,2.4,3.4,2.9,3.8,2.6,3.1,2.7,3.5,2.5,3.3,2.8,3.6,2.6,3,2.7,
3.2,2.6,3.5,2.8,3.9,2.5,3.1,2.7,3.6,2.9,3.3,2.5,4,2.8,3.2,2.6,3.7,2.7,3.4,2.5,3.1,2.9,3.8,2.6,3.3,2.7,3.5,2.5,4.1,2.8,3.2,2.6,3.6,2.9,3.4,2.5,3,2.7,3.9,2.6,3.3,2.8,3.5,2.5,3.1,2.7,3.7,2.6,3.4,2.9,3.2,2.5,4,2.7,3.3,2.6,3.6,2.8,3.1,2.5,
3.4,2.6,3.8,2.7,3.1,2.5,4.1,2.8,3.3,2.6,3.6,2.7,3.9,2.5,3.2,2.8,4.2,2.6,3.4,2.7,3.7,2.5,3.1,2.9,4,2.6,3.5,2.7,3.3,2.5,3.8,2.6,
3.2,2.7,4.3,2.6,3.5,2.8,3.9,2.5,3.3,2.7,4.1,2.6,3.6,2.8,3.1,2.5,4.2,2.7,3.4,2.6,3.8,2.5,3.2,2.8,4,2.6,3.5,2.7,3.3,2.5,4.3,2.6,3.6,2.8,3.1,2.7,3.9,2.5,3.4,2.6,4.1,2.7,3.2,2.5,3.7,2.8,3.5,2.6,4.2,2.7,3.3,2.5,3.8,2.6,3.1,2.8,4,2.6,3.6,2.7,3.4,2.5,3.9,2.6,3.2,2.8,4.1,2.7,3.5,2.5,3.3,2.6,3.8,2.7,3.1,2.6,3.4];
const rmsBlue925 = [2,2.1,1.9,2.2,2,1.9,2.1,2,1.8,2.1,2,1.9,2.2,2,1.9,2.1,1.8,2,2.1,1.9,2,2.2,1.9,2,1.8,2.1,2,1.9,2.1,2,1.9,
2,1.8,2.1,1.9,2,1.8,2.1,1.9,2,1.7,2,1.9,2.1,1.8,2,1.9,1.8,2.1,1.9,2,1.7,2,1.9,2.1,1.8,2,1.9,1.8,2,1.9,
1.9,1.8,2,1.7,1.9,2.1,1.8,1.9,1.7,2,1.8,1.9,2.1,1.7,1.8,2,1.9,1.7,2,1.8,1.9,1.7,2,1.8,2.1,1.7,1.9,1.8,2,1.7,1.9,
1.8,2,1.7,1.9,1.8,2.1,1.7,1.9,1.8,2,1.7,1.9,1.8,2,1.7,1.9,2.1,1.8,1.7,2,1.9,1.8,1.7,1.9];

// ---------- build ----------
const DAYS = 115;
const panels = [
  {top: 48, max: meanMax, min: meanMin, step: meanStep,
   red: [meanRed1, meanRed10, meanRed50, meanRed200, meanRed500, meanRed850, meanRed925],
   blue: [meanBlue1, meanBlue10, meanBlue50, meanBlue200, meanBlue500, meanBlue850, meanBlue925],
   head: 'Regional Mean O-F:'},
  {top: 839, max: rmsMax, min: rmsMin, step: rmsStep,
   red: [rmsRed1, rmsRed10, rmsRed50, rmsRed200, rmsRed500, rmsRed850, rmsRed925],
   blue: [rmsBlue1, rmsBlue10, rmsBlue50, rmsBlue200, rmsBlue500, rmsBlue850, rmsBlue925],
   head: 'Regional RMS O-F:'}
];
function toPairs(arr) {
  const n = arr.length;
  return arr.map((v, i) => [v, i * DAYS / (n - 1)]);
}
const grids = [], xAxes = [], yAxes = [], series = [], graphics = [];
const LAB_FONT = 'DejaVu Sans Condensed';
panels.forEach((p, pi) => {
  for (let k = 0; k < 7; k++) {
    const gi = grids.length;
    const left = 73 + k * 134.5;
    grids.push({left: left, top: p.top, width: 107, height: 613, show: true,
      borderColor: '#000', borderWidth: 2, backgroundColor: 'rgba(0,0,0,0)'});
    xAxes.push({gridIndex: gi, type: 'value', inverse: true,
      min: p.min[k], max: p.max[k], interval: p.step[k],
      axisLine: {show: false},
      axisTick: {show: true, length: 3, lineStyle: {color: '#000', width: 1}},
      axisLabel: {rotate: 90, margin: 4, fontSize: 10, fontWeight: 'bold', fontFamily: LAB_FONT, color: '#000'},
      splitLine: {show: true, lineStyle: {color: '#666', type: [1, 7], width: 1}}});
    yAxes.push({gridIndex: gi, type: 'value', position: 'right', min: 0, max: DAYS,
      axisLine: {show: false},
      axisTick: {show: true, length: 4, customValues: timeTickDays, lineStyle: {color: '#000', width: 1}},
      axisLabel: {rotate: 90, margin: 3, fontSize: 12, fontWeight: 'bold', fontFamily: LAB_FONT, color: '#000',
        lineHeight: 11, customValues: timeTickDays,
        formatter: (v) => { const j = timeTickDays.indexOf(v); return j >= 0 ? timeTickLabels[j] : ''; }},
      splitLine: {show: false}});
    series.push({type: 'line', xAxisIndex: gi, yAxisIndex: gi, data: toPairs(p.red[k]),
      showSymbol: false, silent: true, z: 3, animation: false,
      lineStyle: {color: '#ff0000', width: 1}, itemStyle: {color: '#ff0000'},
      markLine: {silent: true, symbol: 'none', z: 1, animation: false, label: {show: false},
        lineStyle: {color: '#444', type: [2, 4], width: 1},
        data: timeTickDays.slice(1).map(d => ({yAxis: d}))}});
    series.push({type: 'line', xAxisIndex: gi, yAxisIndex: gi, data: toPairs(p.blue[k]),
      showSymbol: false, silent: true, z: 4, animation: false,
      lineStyle: {color: '#0000ff', width: 1}, itemStyle: {color: '#0000ff'}});
    // yellow level label
    graphics.push({type: 'rect', shape: {x: left + 107, y: p.top - 43, width: 20, height: 67},
      style: {fill: '#e6da3c'}, z: 10});
    graphics.push({type: 'text', x: left + 117, y: p.top + 20, rotation: Math.PI / 2, z: 11,
      style: {text: levels[k], fill: '#000', font: '13px DejaVu Sans', textAlign: 'left', textVerticalAlign: 'middle', verticalAlign: 'middle'}});
  }
  const off = p.top - 48;
  // big panel title
  graphics.push({type: 'text', x: 30, y: 359 + off + (pi === 1 ? -3 : 0), rotation: Math.PI / 2, z: 10,
    style: {text: panelTitles[pi], fill: '#000', font: 'bold 50px Liberation Sans', textAlign: 'center', textVerticalAlign: 'middle', verticalAlign: 'middle'}});
  // upside-down legend line
  const ly = 709 + off;
  const parts = [
    {t: p.head, c: '#000', cx: 897},
    {t: 'c403_llk_01(blue)', c: '#0000ff', cx: 632},
    {t: 'a_llk_03(red)', c: '#ff0000', cx: 402},
    {t: 'all hghttovs', c: '#000', cx: 150}
  ];
  parts.forEach(q => graphics.push({type: 'text', x: q.cx, y: ly, rotation: Math.PI, z: 10,
    style: {text: q.t, fill: q.c, font: 'bold 24px Liberation Mono', textAlign: 'center', textVerticalAlign: 'middle', verticalAlign: 'middle'}}));
  // gray hghttovs box
  graphics.push({type: 'rect', shape: {x: 1012, y: 507 + off, width: 33, height: 123}, style: {fill: '#858585'}, z: 10});
  graphics.push({type: 'text', x: 1029, y: 568 + off, rotation: Math.PI / 2, z: 11,
    style: {text: 'hghttovs', fill: '#000', font: '23px Liberation Mono', textAlign: 'center', textVerticalAlign: 'middle', verticalAlign: 'middle'}});
  graphics.push({type: 'text', x: 1025, y: 442 + off, rotation: Math.PI / 2, z: 11,
    style: {text: 'DOLMS script == newgrisas_time_series.gs v1.2', fill: '#000', font: 'bold 14px Liberation Mono', textAlign: 'left', textVerticalAlign: 'middle', verticalAlign: 'middle'}});
});

const chart = echarts.init(document.getElementById('c'), null, {renderer: 'canvas'});
chart.setOption({
  animation: false,
  backgroundColor: '#fff',
  grid: grids, xAxis: xAxes, yAxis: yAxes, series: series,
  graphic: {elements: graphics}
});
</script></body></html>
